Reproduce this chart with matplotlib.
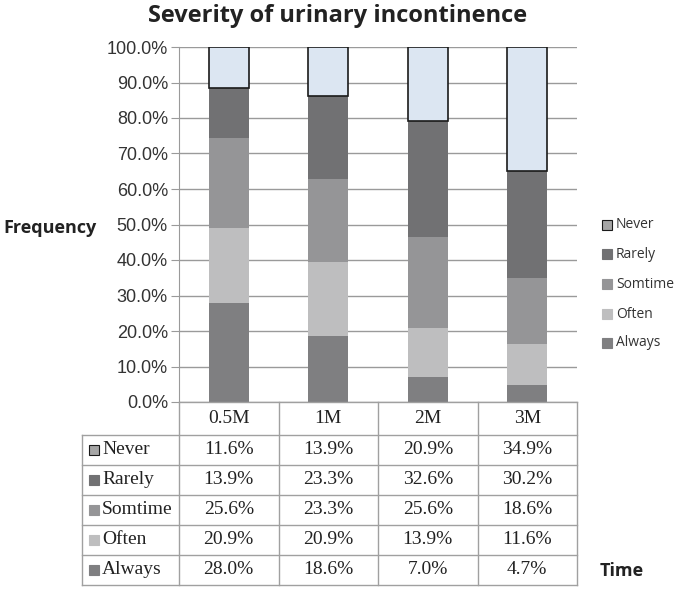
import matplotlib
matplotlib.use("Agg")
import matplotlib.pyplot as plt
from matplotlib.patches import Rectangle
from matplotlib.lines import Line2D
import numpy as np

categories = ["0.5M", "1M", "2M", "3M"]
series_names = ["Always", "Often", "Somtime", "Rarely", "Never"]
always = [28.0, 18.6, 7.0, 4.7]
often = [20.9, 20.9, 13.9, 11.6]
somtime = [25.6, 23.3, 25.6, 18.6]
rarely = [13.9, 23.3, 32.6, 30.2]
never = [11.6, 13.9, 20.9, 34.9]
yticks = [0, 10, 20, 30, 40, 50, 60, 70, 80, 90, 100]

values = [always, often, somtime, rarely, never]
colors = ["#7f7f81", "#bebebf", "#959597", "#717173", "#dce6f2"]
legend_colors = ["#7f7f81", "#bebebf", "#959597", "#717173", "#a6a6a6"]

W, H = 678, 589
fig = plt.figure(figsize=(W / 100, H / 100), dpi=100)

def fx(px):
    return px / W

def fy(py):
    return 1 - py / H

L, R, T, B = 179, 577, 47, 402
ax = fig.add_axes([fx(L), fy(B), fx(R) - fx(L), fy(T) - fy(B)])
ax.set_xlim(-0.5, len(categories) - 0.5)
ax.set_ylim(0, 100)

x = np.arange(len(categories))
bottom = np.zeros(len(categories))
for name, vals, c in zip(series_names, values, colors):
    ec = "#1a1a1a" if name == "Never" else "none"
    lw = 1.2 if name == "Never" else 0
    ax.bar(x, vals, width=0.4, bottom=bottom, color=c, edgecolor=ec, linewidth=lw, zorder=3)
    bottom += np.array(vals)

ax.set_yticks(yticks)
ax.set_yticklabels([f"{v:.1f}%" for v in yticks], fontsize=13, family="Liberation Sans", color="#333333")
ax.set_xticks([])
ax.grid(axis="y", color="#9a9a9a", linewidth=1, zorder=0)
ax.tick_params(axis="y", length=6, color="#9a9a9a", pad=2)
for s in ["top", "right", "bottom"]:
    ax.spines[s].set_visible(False)
ax.spines["left"].set_color("#9a9a9a")

# Title and axis labels
fig.text(fx(338), fy(16), "Severity of urinary incontinence", ha="center", va="center",
         fontsize=17, fontweight="bold", family="Open Sans", color="#222222")
fig.text(fx(3), fy(228), "Frequency", ha="left", va="center", fontsize=13,
         fontweight="bold", family="Open Sans", color="#222222")
fig.text(fx(600), fy(571), "Time", ha="left", va="center", fontsize=13,
         fontweight="bold", family="Open Sans", color="#222222")

# Legend (top to bottom: Never ... Always)
leg_y = [225, 254, 284, 314, 343]
for i, name in enumerate(series_names[::-1]):
    col = legend_colors[::-1][i]
    ec = "#1a1a1a" if name == "Never" else col
    fig.patches.append(Rectangle((fx(602), fy(leg_y[i] + 5)), fx(10), fy(0) - fy(10),
                                 transform=fig.transFigure, facecolor=col, edgecolor=ec, linewidth=0.8))
    fig.text(fx(616), fy(leg_y[i]), name, ha="left", va="center", fontsize=10,
             family="Open Sans", color="#333333")

# Table
col_edges = [82] + [L + (R - L) * i / len(categories) for i in range(len(categories) + 1)]
row_edges = [B, 435, 465, 495, 525, 555, 585]
lc = "#a0a0a0"

def hline(y, x0, x1):
    fig.add_artist(Line2D([fx(x0), fx(x1)], [fy(y), fy(y)], transform=fig.transFigure, color=lc, linewidth=1))

def vline(xp, y0, y1):
    fig.add_artist(Line2D([fx(xp), fx(xp)], [fy(y0), fy(y1)], transform=fig.transFigure, color=lc, linewidth=1))

hline(B, L, R)
for y in row_edges[1:]:
    hline(y, col_edges[0], R)
vline(col_edges[0], row_edges[1], row_edges[-1])
for xp in col_edges[1:]:
    vline(xp, B, row_edges[-1])

serif = "Liberation Serif"
for j, cat in enumerate(categories):
    cx = (col_edges[j + 1] + col_edges[j + 2]) / 2
    fig.text(fx(cx), fy((row_edges[0] + row_edges[1]) / 2), cat, ha="center", va="center",
             fontsize=14, family=serif, color="#222222")

table_order = list(zip(series_names, values, legend_colors))[::-1]
for i, (name, vals, col) in enumerate(table_order):
    cy = (row_edges[i + 1] + row_edges[i + 2]) / 2
    ec = "#1a1a1a" if name == "Never" else col
    fig.patches.append(Rectangle((fx(89), fy(cy + 5)), fx(10), fy(0) - fy(10),
                                 transform=fig.transFigure, facecolor=col, edgecolor=ec, linewidth=0.8))
    fig.text(fx(102), fy(cy), name, ha="left", va="center", fontsize=14, family=serif, color="#222222")
    for j, v in enumerate(vals):
        cx = (col_edges[j + 1] + col_edges[j + 2]) / 2
        fig.text(fx(cx), fy(cy), f"{v:.1f}%", ha="center", va="center", fontsize=14,
                 family=serif, color="#222222")

fig.savefig("out.png", dpi=100)
